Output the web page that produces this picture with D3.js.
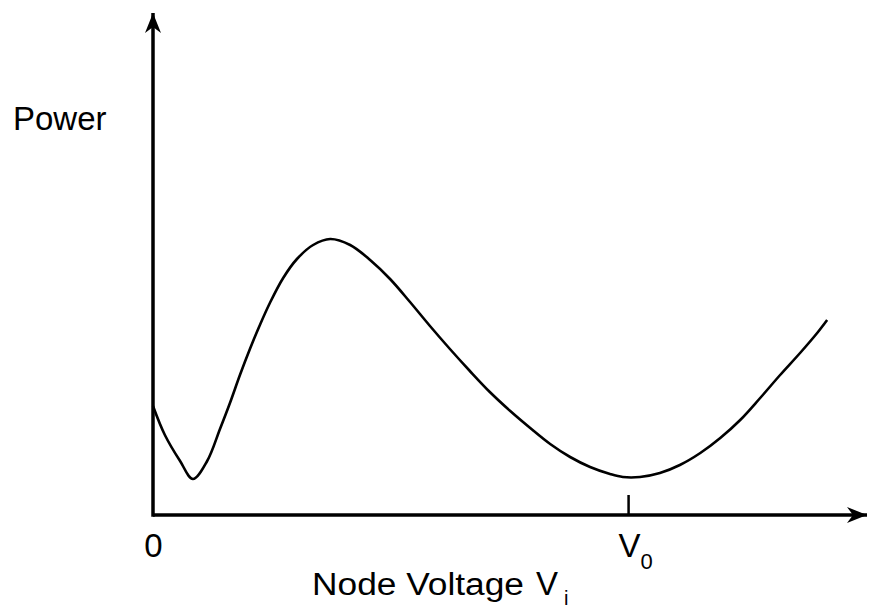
<!DOCTYPE html>
<html>
<head>
<meta charset="utf-8">
<script src="https://cdn.jsdelivr.net/npm/d3@7"></script>
<style>
  body { margin: 0; background: #fff; }
  svg text { font-family: "Liberation Sans", Arial, sans-serif; fill: #000; }
</style>
</head>
<body>
<div id="plot"></div>
<script>
// node voltage (V0 = 1) and power
const voltage = [0, 0.025, 0.057, 0.084, 0.114, 0.141, 0.162, 0.183, 0.204, 0.225, 0.246, 0.274, 0.303, 0.337, 0.373,
    0.415, 0.457, 0.499, 0.541, 0.583, 0.625, 0.667, 0.709, 0.752, 0.794, 0.836, 0.878, 0.920, 0.962, 0.989,
    1.025, 1.067, 1.109, 1.152, 1.194, 1.236, 1.278, 1.320, 1.362, 1.398, 1.419]
const power = [1.09, 0.80, 0.54, 0.36, 0.54, 0.86, 1.12, 1.40, 1.66, 1.90, 2.12, 2.37, 2.56, 2.70, 2.76,
    2.70, 2.55, 2.36, 2.13, 1.89, 1.66, 1.44, 1.23, 1.04, 0.87, 0.71, 0.58, 0.48, 0.41, 0.38,
    0.38, 0.42, 0.50, 0.62, 0.77, 0.95, 1.17, 1.40, 1.62, 1.82, 1.95]
const V0 = 1
const xTicks = [0, V0]
const xTickLabels = ["0", "V"]
const yLabel = "Power"
const xLabel = "Node Voltage"

const width = 875, height = 613
const margin = { top: 12, right: 7, bottom: 98, left: 153 }

const x = d3.scaleLinear().domain([0, 1.505]).range([margin.left, width - margin.right])
const y = d3.scaleLinear().domain([0, 5.03]).range([height - margin.bottom, margin.top])

const svg = d3.select("#plot").append("svg")
    .attr("width", width)
    .attr("height", height)

// barbed arrow heads for the axes
svg.append("defs").append("marker")
    .attr("id", "arrow")
    .attr("markerUnits", "userSpaceOnUse")
    .attr("viewBox", "-20 -9 21 18")
    .attr("refX", 0).attr("refY", 0)
    .attr("markerWidth", 21).attr("markerHeight", 18)
    .attr("orient", "auto")
    .append("path")
    .attr("d", "M0,0 L-20,-8 L-14,0 L-20,8 Z")
    .attr("fill", "#000")

// axes lines
svg.append("line")
    .attr("x1", x(0)).attr("y1", y(0))
    .attr("x2", x(1.505) - 1).attr("y2", y(0))
    .attr("stroke", "#000").attr("stroke-width", 3.5)
    .attr("marker-end", "url(#arrow)")
svg.append("line")
    .attr("x1", x(0)).attr("y1", y(0) + 1.7)
    .attr("x2", x(0)).attr("y2", y(5.03) + 1)
    .attr("stroke", "#000").attr("stroke-width", 3.5)
    .attr("marker-end", "url(#arrow)")

// the V0 tick mark, pointing up into the plot
const tickAxis = svg.append("g")
    .attr("transform", `translate(0,${y(0)})`)
    .call(d3.axisTop(x).tickValues([V0]).tickSize(20).tickFormat(""))
tickAxis.select(".domain").remove()
tickAxis.selectAll("line").attr("stroke", "#000").attr("stroke-width", 2.5)

// tick labels
const labelAxis = svg.append("g")
    .attr("transform", `translate(0,${y(0)})`)
    .call(d3.axisBottom(x).tickValues(xTicks).tickSize(0).tickPadding(0)
        .tickFormat((d, i) => xTickLabels[i]))
labelAxis.select(".domain").remove()
labelAxis.selectAll("text")
    .attr("dy", null)
    .attr("y", 42)
    .style("font-size", "33px")
    .style("font-family", "'Liberation Sans', Arial, sans-serif")
labelAxis.selectAll("text").filter(d => d === V0)
    .attr("text-anchor", "start")
    .attr("x", -10)
    .append("tspan")
    .attr("dy", 12)
    .style("font-size", "22px")
    .text("0")

// axis titles
svg.append("text")
    .attr("x", 13).attr("y", 130)
    .style("font-size", "33px")
    .text(yLabel)
const xt = svg.append("text")
    .attr("x", 312).attr("y", 595)
    .style("font-size", "31px")
xt.append("tspan")
    .attr("textLength", 212)
    .attr("lengthAdjust", "spacingAndGlyphs")
    .text(xLabel)
xt.append("tspan")
    .attr("x", 536)
    .style("font-size", "33px")
    .text("V")
xt.append("tspan")
    .attr("x", 564).attr("dy", 10)
    .style("font-size", "20px")
    .text("i")

// the power curve
const line = d3.line()
    .x((d, i) => x(voltage[i]))
    .y(d => y(d))
    .curve(d3.curveCatmullRom.alpha(0.5))

svg.append("path")
    .datum(power)
    .attr("d", line)
    .attr("fill", "none")
    .attr("stroke", "#000")
    .attr("stroke-width", 2.6)
</script>
</body>
</html>
